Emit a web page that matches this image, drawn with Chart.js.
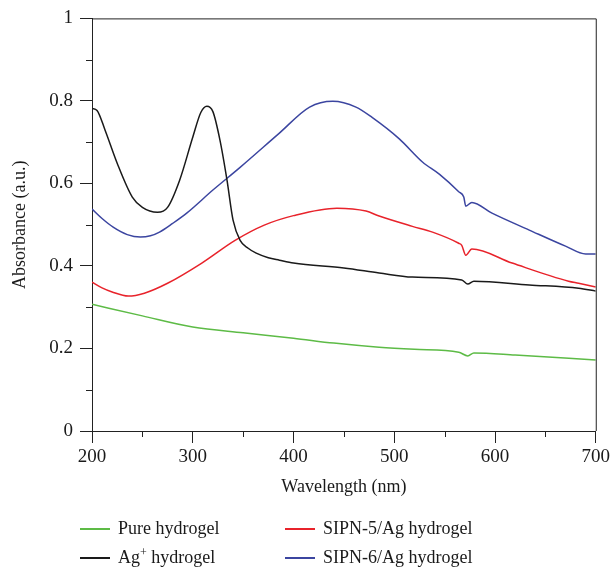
<!DOCTYPE html>
<html>
<head>
<meta charset="utf-8">
<script src="https://cdn.jsdelivr.net/npm/chart.js@4"></script>
<style>
  html, body { margin: 0; padding: 0; background: #fff; }
  #wrap { position: relative; width: 613px; height: 567px; }
  #legend { position: absolute; left: 0; top: 0; width: 613px; height: 567px; pointer-events: none;
    font-family: 'Liberation Serif', 'DejaVu Serif', serif; font-size: 18px; color: #1a1a1a; }
  .item { position: absolute; white-space: nowrap; line-height: 20px; }
  .item .swatch { position: absolute; width: 30px; height: 1.6px; top: 10px; }
  .item span.txt { position: absolute; }
  sup { font-size: 12px; vertical-align: 7px; line-height: 0; }
</style>
</head>
<body>
<div id="wrap">
  <canvas id="myChart" width="613" height="567"></canvas>
  <div id="legend"></div>
</div>
<script>
// wavelengths (nm) and absorbance values
const pureWl  = [200, 250, 300, 350, 400, 440, 485, 520, 564, 573, 579, 620, 700];
const pureAbs = [0.307, 0.279, 0.252, 0.238, 0.225, 0.213, 0.203, 0.198, 0.191, 0.182, 0.189, 0.184, 0.172];

const agWl  = [200, 205, 213, 225, 240, 250, 265, 275, 287, 300, 308, 314, 320, 327, 334, 340, 347, 355, 363, 375, 386, 400, 450, 485, 518, 567, 573, 579, 634, 683, 700];
const agAbs = [0.782, 0.777, 0.729, 0.649, 0.567, 0.542, 0.530, 0.542, 0.608, 0.712, 0.772, 0.787, 0.774, 0.705, 0.608, 0.511, 0.462, 0.443, 0.431, 0.420, 0.414, 0.407, 0.395, 0.383, 0.373, 0.366, 0.356, 0.363, 0.354, 0.346, 0.339];

const sipn5Wl  = [200, 210, 220, 236, 252, 275, 309, 342, 371, 400, 443, 472, 485, 518, 538, 564, 567, 571, 577, 617, 673, 683, 700];
const sipn5Abs = [0.361, 0.347, 0.337, 0.327, 0.334, 0.358, 0.407, 0.462, 0.499, 0.522, 0.540, 0.533, 0.521, 0.496, 0.482, 0.455, 0.450, 0.426, 0.441, 0.407, 0.363, 0.358, 0.349];

const sipn6Wl  = [200, 210, 221, 235, 248, 258, 267, 280, 294, 320, 347, 386, 416, 439, 462, 478, 505, 528, 545, 564, 569, 571, 577, 597, 634, 670, 690, 700];
const sipn6Abs = [0.538, 0.515, 0.494, 0.476, 0.470, 0.473, 0.482, 0.503, 0.528, 0.584, 0.639, 0.722, 0.785, 0.799, 0.785, 0.760, 0.708, 0.652, 0.622, 0.580, 0.567, 0.545, 0.554, 0.528, 0.487, 0.448, 0.429, 0.429];

const seriesNames = ['Pure hydrogel', 'Ag<sup>+</sup> hydrogel', 'SIPN-5/Ag hydrogel', 'SIPN-6/Ag hydrogel'];
const seriesColors = ['#5dbb46', '#1a1a1a', '#e8232b', '#3b45a0'];

const xTicks = [200, 300, 400, 500, 600, 700];
const yTicks = [0, 0.2, 0.4, 0.6, 0.8, 1];

const FONT = "'Liberation Serif', 'DejaVu Serif', serif";

function toPoints(xs, ys) {
  return xs.map((x, i) => ({ x: x, y: ys[i] }));
}

const allSeries = [
  toPoints(pureWl, pureAbs),
  toPoints(agWl, agAbs),
  toPoints(sipn5Wl, sipn5Abs),
  toPoints(sipn6Wl, sipn6Abs)
];

// minor ticks + top/right frame
const framePlugin = {
  id: 'frame',
  afterDraw(chart) {
    const { ctx, chartArea: a, scales } = chart;
    ctx.save();
    ctx.strokeStyle = '#222';
    ctx.lineWidth = 1;
    ctx.beginPath();
    ctx.moveTo(a.left, a.top + 0.5);
    ctx.lineTo(a.right + 0.5, a.top + 0.5);
    ctx.lineTo(a.right + 0.5, a.bottom);
    ctx.stroke();
    ctx.beginPath();
    for (let v = 0.1; v < 1; v += 0.2) {
      const y = Math.round(scales.y.getPixelForValue(v)) + 0.5;
      ctx.moveTo(a.left - 6, y);
      ctx.lineTo(a.left, y);
    }
    for (let v = 250; v < 700; v += 100) {
      const x = Math.round(scales.x.getPixelForValue(v)) + 0.5;
      ctx.moveTo(x, a.bottom);
      ctx.lineTo(x, a.bottom + 6);
    }
    ctx.stroke();
    ctx.restore();
  }
};

const ctx = document.getElementById('myChart');
new Chart(ctx, {
  type: 'line',
  data: {
    datasets: allSeries.map((pts, i) => ({
      label: seriesNames[i],
      data: pts,
      borderColor: seriesColors[i],
      borderWidth: 1.5,
      pointRadius: 0,
      fill: false,
      cubicInterpolationMode: 'monotone'
    }))
  },
  options: {
    responsive: false,
    animation: false,
    layout: { padding: { left: 0, right: 16, top: 18, bottom: 66 } },
    plugins: {
      legend: { display: false },
      tooltip: { enabled: false }
    },
    scales: {
      x: {
        type: 'linear',
        min: 200,
        max: 700,
        afterBuildTicks: s => { s.ticks = xTicks.map(v => ({ value: v })); },
        afterFit: s => { s.height = 70; },
        grid: { drawOnChartArea: false, tickLength: 12, color: '#222' },
        border: { color: '#222', width: 1 },
        ticks: { color: '#1a1a1a', padding: 3, font: { family: FONT, size: 19 }, maxRotation: 0 },
        title: { display: true, text: 'Wavelength (nm)', color: '#1a1a1a', font: { family: FONT, size: 18 }, padding: { top: 0, bottom: 3 } }
      },
      y: {
        min: 0,
        max: 1,
        afterBuildTicks: s => { s.ticks = yTicks.map(v => ({ value: v })); },
        afterFit: s => { s.width = 92; },
        grid: { drawOnChartArea: false, tickLength: 12, color: '#222' },
        border: { color: '#222', width: 1 },
        ticks: {
          color: '#1a1a1a', padding: 7, font: { family: FONT, size: 19 },
          callback: v => (v === 0 ? '0' : v === 1 ? '1' : v.toFixed(1))
        },
        title: { display: true, text: 'Absorbance (a.u.)', color: '#1a1a1a', font: { family: FONT, size: 18 }, padding: { top: 9, bottom: 0 } }
      }
    }
  },
  plugins: [framePlugin]
});

// legend, two columns
const legendPos = [
  { x: 80, y: 518 }, { x: 80, y: 547 },
  { x: 285, y: 518 }, { x: 285, y: 547 }
];
const legendOrder = [0, 1, 2, 3];
const legend = document.getElementById('legend');
legendOrder.forEach((s, k) => {
  const p = legendPos[k];
  const el = document.createElement('div');
  el.className = 'item';
  el.style.left = p.x + 'px';
  el.style.top = p.y + 'px';
  el.innerHTML = '<div class="swatch" style="background:' + seriesColors[s] + '"></div>' +
    '<span class="txt" style="left:38px">' + seriesNames[s] + '</span>';
  legend.appendChild(el);
});
</script>
</body>
</html>
